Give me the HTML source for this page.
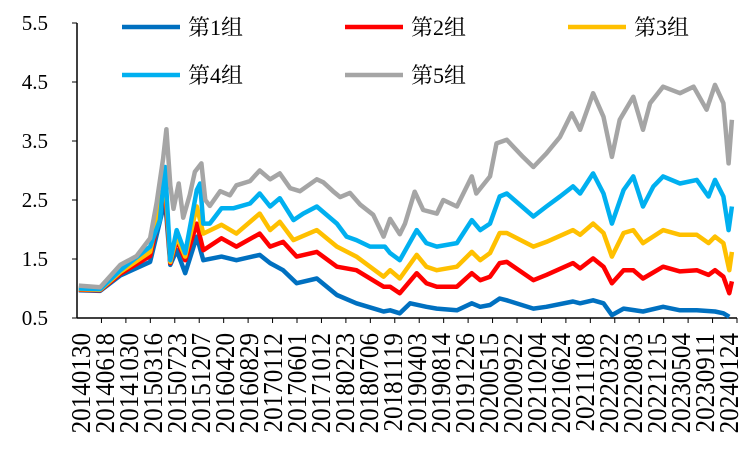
<!DOCTYPE html>
<html><head><meta charset="utf-8">
<style>
html,body{margin:0;padding:0;background:#fff;}
svg{display:block;font-family:"Liberation Serif","Noto Serif CJK SC",serif;}
</style></head>
<body>
<svg id="chart" width="747" height="450" viewBox="0 0 747 450" xmlns="http://www.w3.org/2000/svg">
<g id="grid"></g>
<g id="series"></g>
<g id="legend"></g>
</svg>
<script>
const xLabels=["20140130","20140618","20141030","20150316","20150723","20151207","20160420","20160829","20170112","20170601","20171012","20180223","20180706","20181119","20190403","20190814","20191226","20200515","20200922","20210204","20210624","20211108","20220322","20220803","20221215","20230504","20230911","20240124"];
const yTicks=[0.5,1.5,2.5,3.5,4.5,5.5];
const seriesNames=["第1组","第2组","第3组","第4组","第5组"];
const g1T=[2014.0,2014.33,2014.64,2015.10,2015.33,2015.41,2015.51,2015.64,2015.82,2015.92,2016.20,2016.43,2016.79,2016.95,2017.15,2017.36,2017.67,2017.98,2018.28,2018.70,2018.80,2018.95,2019.11,2019.36,2019.52,2019.83,2020.06,2020.19,2020.34,2020.49,2020.60,2021.01,2021.21,2021.62,2021.73,2021.93,2022.09,2022.22,2022.40,2022.70,2023.01,2023.27,2023.53,2023.81,2023.94,2024.03];
const g1V=[0.97,0.96,1.22,1.45,2.50,1.40,1.65,1.26,1.88,1.48,1.54,1.48,1.57,1.43,1.31,1.09,1.17,0.89,0.75,0.61,0.63,0.58,0.75,0.69,0.66,0.63,0.75,0.69,0.72,0.83,0.80,0.66,0.69,0.78,0.75,0.80,0.75,0.55,0.66,0.61,0.69,0.63,0.63,0.61,0.58,0.52];
const g2T=[2014.0,2014.33,2014.64,2015.10,2015.33,2015.41,2015.51,2015.64,2015.82,2015.92,2016.20,2016.43,2016.79,2016.95,2017.15,2017.36,2017.67,2017.98,2018.28,2018.70,2018.80,2018.95,2019.21,2019.36,2019.52,2019.83,2020.06,2020.19,2020.34,2020.49,2020.60,2021.01,2021.21,2021.62,2021.73,2021.93,2022.09,2022.22,2022.40,2022.55,2022.70,2023.01,2023.27,2023.53,2023.71,2023.81,2023.94,2024.03,2024.07];
const g2V=[0.98,0.97,1.25,1.55,2.67,1.43,1.82,1.48,2.10,1.65,1.85,1.71,1.93,1.71,1.79,1.54,1.62,1.37,1.31,1.03,1.03,0.92,1.26,1.09,1.03,1.03,1.26,1.14,1.20,1.43,1.45,1.14,1.23,1.43,1.34,1.51,1.37,1.09,1.31,1.31,1.17,1.37,1.29,1.31,1.23,1.31,1.20,0.92,1.12];
const g3T=[2014.0,2014.33,2014.64,2015.10,2015.33,2015.41,2015.51,2015.64,2015.82,2015.92,2016.20,2016.43,2016.79,2016.95,2017.10,2017.31,2017.67,2017.98,2018.28,2018.70,2018.80,2018.95,2019.21,2019.36,2019.52,2019.83,2020.06,2020.19,2020.34,2020.49,2020.60,2021.01,2021.21,2021.62,2021.73,2021.93,2022.09,2022.22,2022.40,2022.55,2022.70,2023.01,2023.27,2023.53,2023.71,2023.81,2023.94,2024.03,2024.07];
const g3V=[0.99,0.98,1.28,1.62,2.84,1.45,1.88,1.54,2.39,1.93,2.08,1.93,2.27,1.99,2.13,1.82,1.99,1.71,1.54,1.20,1.31,1.17,1.57,1.37,1.31,1.37,1.62,1.48,1.60,1.94,1.94,1.71,1.79,1.99,1.91,2.10,1.94,1.54,1.94,1.99,1.77,1.99,1.91,1.91,1.77,1.88,1.77,1.31,1.62];
const g4T=[2014.0,2014.33,2014.64,2015.10,2015.25,2015.33,2015.41,2015.51,2015.64,2015.82,2015.87,2015.92,2016.02,2016.20,2016.38,2016.64,2016.79,2016.95,2017.10,2017.31,2017.46,2017.67,2017.98,2018.13,2018.28,2018.49,2018.72,2018.80,2018.95,2019.21,2019.36,2019.52,2019.83,2020.06,2020.19,2020.34,2020.49,2020.60,2021.01,2021.21,2021.42,2021.62,2021.73,2021.93,2022.09,2022.22,2022.40,2022.55,2022.70,2022.86,2023.01,2023.27,2023.53,2023.71,2023.81,2023.94,2024.02,2024.07];
const g4V=[1.00,0.99,1.31,1.71,2.16,3.06,1.48,1.99,1.60,2.67,2.78,2.10,2.10,2.36,2.36,2.44,2.61,2.39,2.53,2.16,2.27,2.39,2.10,1.88,1.82,1.71,1.71,1.60,1.48,1.99,1.77,1.71,1.77,2.16,1.99,2.10,2.56,2.61,2.22,2.39,2.56,2.73,2.61,2.95,2.61,2.10,2.67,2.90,2.39,2.73,2.90,2.78,2.84,2.56,2.84,2.56,1.99,2.39];
const g5T=[2014.0,2014.33,2014.64,2014.89,2015.10,2015.20,2015.30,2015.35,2015.41,2015.46,2015.54,2015.61,2015.71,2015.79,2015.89,2015.95,2016.02,2016.18,2016.33,2016.43,2016.64,2016.79,2016.95,2017.10,2017.26,2017.41,2017.67,2017.77,2017.92,2018.03,2018.18,2018.34,2018.54,2018.70,2018.80,2018.95,2019.03,2019.18,2019.31,2019.52,2019.62,2019.83,2020.06,2020.13,2020.34,2020.44,2020.60,2020.85,2021.01,2021.21,2021.42,2021.60,2021.73,2021.93,2022.09,2022.22,2022.34,2022.55,2022.70,2022.81,2023.01,2023.27,2023.48,2023.68,2023.81,2023.94,2024.02,2024.07];
const g5V=[1.05,1.02,1.40,1.55,1.85,2.45,3.20,3.70,2.75,2.35,2.78,2.20,2.58,2.98,3.12,2.50,2.40,2.65,2.58,2.75,2.82,3.00,2.85,2.95,2.70,2.65,2.85,2.80,2.65,2.55,2.62,2.42,2.25,1.88,2.18,1.92,2.10,2.64,2.33,2.27,2.50,2.39,2.90,2.61,2.90,3.46,3.52,3.23,3.06,3.29,3.57,3.97,3.69,4.31,3.91,3.23,3.86,4.25,3.69,4.14,4.42,4.31,4.42,4.03,4.45,4.14,3.12,3.86];

const NS="http://www.w3.org/2000/svg";
const X0=77,X1=737,Y0=318;
function xScale(t){return 84+(t-2014.08)/0.01542;}
function yScale(v){return 318-(v-0.5)*59;}
function mk(tag,attrs,parent){const e=document.createElementNS(NS,tag);for(const k in attrs)e.setAttribute(k,attrs[k]);parent.appendChild(e);return e;}
const grid=document.getElementById('grid');
const series=document.getElementById('series');
const legend=document.getElementById('legend');

let ax=mk('line',{x1:X0,y1:yScale(5.5),x2:X0,y2:Y0,stroke:'#000','stroke-width':1.5},grid);


let bx=mk('line',{x1:X0,y1:Y0,x2:X1,y2:Y0,stroke:'#000','stroke-width':1.5},grid);


yTicks.forEach(v=>{
  const y=yScale(v);
  const tk=mk('line',{x1:X0-5,y1:y,x2:X0,y2:y,stroke:'#000','stroke-width':1},grid);
  
  
  const tx=mk('text',{x:48,y:y+7,'text-anchor':'end','font-size':21,fill:'#000'},grid);
  tx.textContent=v.toFixed(1);
  
  
});
const step=(X1-X0)/27;
for(let k=1;k<=27;k++){
  const x=X0+step*k;
  const tk=mk('line',{x1:x,y1:Y0,x2:x,y2:Y0+5,stroke:'#000','stroke-width':1},grid);
  
  
}
xLabels.forEach((lab,i)=>{
  const x=90+24*i;
  const tx=mk('text',{x:0,y:0,'text-anchor':'end','font-size':27,fill:'#000',transform:`translate(${x},333) rotate(-90) scale(0.93,1)`},grid);
  tx.textContent=lab;
  
  
});

const colors=["#0070C0","#FF0000","#FFC000","#00B0F0","#A5A5A5"];
const allT=[g1T,g2T,g3T,g4T,g5T];
const allV=[g1V,g2V,g3V,g4V,g5V];
for(let s=0;s<5;s++){
  const d=allT[s].map((t,i)=>(i?'L':'M')+xScale(t).toFixed(1)+','+yScale(allV[s][i]).toFixed(1)).join('');
  const p=mk('path',{d:d,fill:'none',stroke:colors[s],'stroke-width':4.5,'stroke-linejoin':'round'},series);
  
  
}

const legPos=[[122,27],[345,27],[568,27],[122,75],[345,75]];
for(let s=0;s<5;s++){
  const [lx,ly]=legPos[s];
  const g=mk('g',{},legend);
  
  
  mk('line',{x1:lx,y1:ly,x2:lx+58,y2:ly,stroke:colors[s],'stroke-width':4.5},g);
  const t=mk('text',{x:lx+66,y:ly+8,'font-size':22,fill:'#000'},g);
  t.textContent=seriesNames[s];
}
</script>
</body></html>
